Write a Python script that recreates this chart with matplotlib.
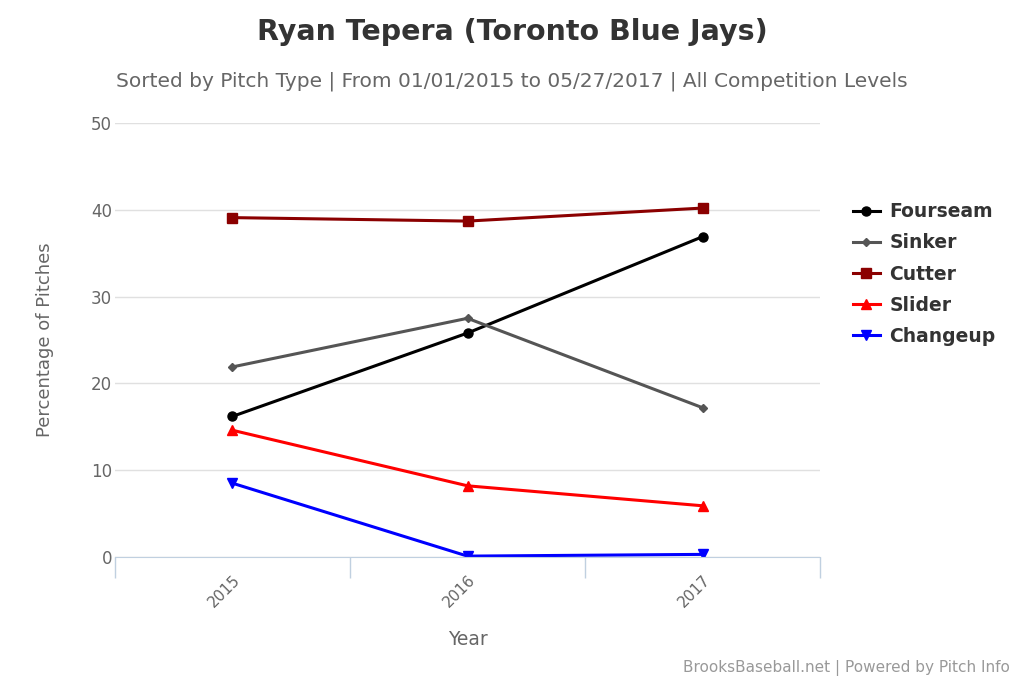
import matplotlib.pyplot as plt

years = ['2015', '2016', '2017']
fourseam = [16.2, 25.8, 36.9]
sinker = [21.9, 27.5, 17.2]
cutter = [39.1, 38.7, 40.2]
slider = [14.6, 8.2, 5.9]
changeup = [8.5, 0.1, 0.3]

series = [
    ('Fourseam', fourseam, '#000000', 'o', 6.5),
    ('Sinker', sinker, '#555555', 'D', 4.5),
    ('Cutter', cutter, '#8b0000', 's', 6.5),
    ('Slider', slider, '#ff0000', '^', 6.5),
    ('Changeup', changeup, '#0000ff', 'v', 6.5),
]

plt.rcParams['font.family'] = ['DejaVu Sans']

fig = plt.figure(figsize=(10.24, 6.83), dpi=100)
ax = fig.add_axes([0.1123, 0.1845, 0.6885, 0.6354])

x = list(range(len(years)))
for name, vals, color, marker, ms in series:
    ax.plot(x, vals, color=color, marker=marker, markersize=ms, linewidth=2.2, label=name)

ax.set_xlim(-0.5, 2.5)
ax.set_ylim(0, 50)
ax.set_yticks([0, 10, 20, 30, 40, 50])
ax.set_xticks(x)
ax.set_xticklabels(years, rotation=45, ha='right', rotation_mode='anchor')
ax.set_xticks([-0.5, 0.5, 1.5, 2.5], minor=True)
ax.yaxis.grid(True, color='#e0e0e0', linewidth=1)
ax.set_axisbelow(True)
for side in ['top', 'right', 'left']:
    ax.spines[side].set_visible(False)
ax.spines['bottom'].set_color('#c0d0e0')
ax.tick_params(axis='x', which='major', length=0, labelsize=11, labelcolor='#666666', pad=11)
ax.tick_params(axis='x', which='minor', length=15, color='#c0d0e0', width=1)
ax.tick_params(axis='y', length=0, labelsize=12, labelcolor='#666666', pad=2)

ax.set_xlabel('Year', fontsize=13.5, color='#666666', labelpad=14)
ax.set_ylabel('Percentage of Pitches', fontsize=13, color='#666666', labelpad=27)

fig.text(0.5, 0.953, 'Ryan Tepera (Toronto Blue Jays)', ha='center', va='center',
         fontsize=20.5, fontweight='bold', color='#333333')
fig.text(0.5, 0.881, 'Sorted by Pitch Type | From 01/01/2015 to 05/27/2017 | All Competition Levels',
         ha='center', va='center', fontsize=14.5, color='#666666')
fig.text(0.986, 0.022, 'BrooksBaseball.net | Powered by Pitch Info', ha='right', va='center',
         fontsize=11, color='#999999')

leg = ax.legend(loc='upper left', bbox_to_anchor=(1.033, 0.839), frameon=False, borderpad=0,
                prop={'weight': 'bold', 'size': 13.5}, handlelength=1.45, handletextpad=0.5,
                labelspacing=0.65, labelcolor='#333333')

fig.savefig('out.png', dpi=100)
